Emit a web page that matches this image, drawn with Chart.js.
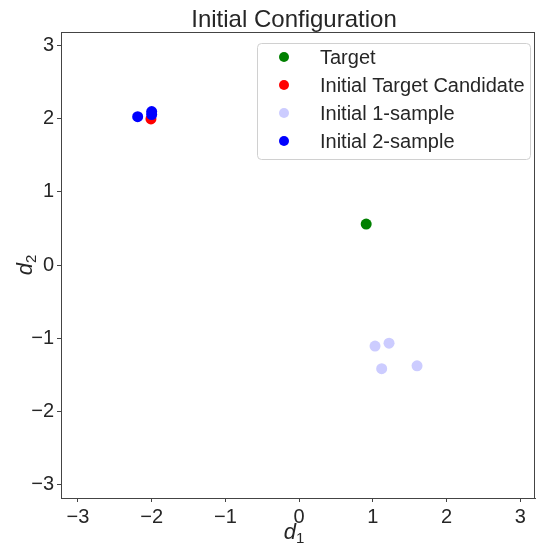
<!DOCTYPE html>
<html>
<head>
<meta charset="utf-8">
<script src="https://cdn.jsdelivr.net/npm/chart.js@4/dist/chart.umd.min.js"></script>
<style>
  html, body { margin: 0; padding: 0; background: #fff; }
  #wrap { width: 536px; height: 545px; }
</style>
</head>
<body>
<div id="wrap"><canvas id="chart" width="536" height="545"></canvas></div>
<script>
// values
const seriesNames = ['Target', 'Initial Target Candidate', 'Initial 1-sample', 'Initial 2-sample'];
const seriesColors = ['#008000', '#ff0000', '#ccccff', '#0000ff'];
const targetX = [0.91];
const targetY = [0.56];
const candidateX = [-2.01];
const candidateY = [2.0];
const oneSampleX = [1.03, 1.22, 1.12, 1.60];
const oneSampleY = [-1.11, -1.07, -1.42, -1.38];
const twoSampleX = [-2.19, -2.0, -2.0];
const twoSampleY = [2.03, 2.1, 2.06];
const tickValues = [-3, -2, -1, 0, 1, 2, 3];

const FONT = "'Liberation Sans', Arial, sans-serif";

function toPoints(xs, ys) {
    return xs.map((x, i) => ({ x: x, y: ys[i] }));
}

const allPoints = [
    toPoints(targetX, targetY),
    toPoints(candidateX, candidateY),
    toPoints(oneSampleX, oneSampleY),
    toPoints(twoSampleX, twoSampleY)
];

const datasets = seriesNames.map((name, i) => ({
    label: name,
    data: allPoints[i],
    backgroundColor: seriesColors[i],
    borderColor: seriesColors[i],
    borderWidth: 0,
    pointRadius: 5.5,
    pointHoverRadius: 5.5,
    order: seriesNames.length - i
}));

// title, top/right spines and the boxed legend
const extras = {
    id: 'extras',
    afterDraw(chart) {
        const c = chart.ctx;
        const a = chart.chartArea;
        c.save();
        c.strokeStyle = '#444';
        c.lineWidth = 1;
        c.beginPath();
        c.moveTo(a.left, a.top + 0.5);
        c.lineTo(a.right, a.top + 0.5);
        c.moveTo(a.right - 0.5, a.top);
        c.lineTo(a.right - 0.5, a.bottom);
        c.stroke();

        c.fillStyle = '#262626';
        c.font = '24px ' + FONT;
        c.textAlign = 'center';
        c.textBaseline = 'alphabetic';
        c.fillText('Initial Configuration', (a.left + a.right) / 2 - 4, 27);

        // legend
        const bx = 257, by = 43, bw = 273, bh = 116, r = 4;
        c.fillStyle = 'rgba(255,255,255,0.8)';
        c.strokeStyle = '#d0d0d0';
        c.beginPath();
        c.roundRect(bx + 0.5, by + 0.5, bw, bh, r);
        c.fill();
        c.stroke();
        c.font = '20px ' + FONT;
        c.textAlign = 'left';
        c.textBaseline = 'middle';
        const rows = [57, 85, 113, 141];
        chart.data.datasets.forEach((ds, i) => {
            c.fillStyle = ds.backgroundColor;
            c.beginPath();
            c.arc(284, rows[i], 5, 0, Math.PI * 2);
            c.fill();
            c.fillStyle = '#262626';
            c.fillText(ds.label, 320, rows[i] + 1);
        });

        // axis labels: italic d with subscript
        function axisLabel(x, y, sub, rotate) {
            c.save();
            c.translate(x, y);
            if (rotate) c.rotate(-Math.PI / 2);
            c.fillStyle = '#262626';
            c.textBaseline = 'alphabetic';
            c.font = 'italic 22px ' + FONT;
            const w1 = c.measureText('d').width;
            c.font = '15px ' + FONT;
            const w2 = c.measureText(sub).width;
            const start = -(w1 + w2) / 2;
            c.textAlign = 'left';
            c.font = 'italic 22px ' + FONT;
            c.fillText('d', start, 0);
            c.font = '15px ' + FONT;
            c.fillText(sub, start + w1, 4);
            c.restore();
        }
        axisLabel((a.left + a.right) / 2 - 4, 539, '1', false);
        axisLabel(32, (a.top + a.bottom) / 2, '2', true);
        c.restore();
    }
};

const tickFont = { family: FONT, size: 20 };
const tickCallback = v => (v < 0 ? '\u2212' + Math.abs(v) : String(v));

new Chart(document.getElementById('chart').getContext('2d'), {
    type: 'scatter',
    data: { datasets: datasets },
    options: {
        responsive: false,
        animation: false,
        layout: { autoPadding: false, padding: { top: 32, right: 1, left: 0, bottom: 0 } },
        plugins: {
            legend: { display: false },
            title: { display: false },
            tooltip: { enabled: false }
        },
        scales: {
            x: {
                type: 'linear',
                min: -3.23,
                max: 3.2,
                afterBuildTicks: s => { s.ticks = tickValues.map(v => ({ value: v })); },
                afterFit: s => { s.height = 47; },
                ticks: { font: tickFont, color: '#262626', padding: 3, callback: tickCallback, maxRotation: 0 },
                grid: { display: true, drawOnChartArea: false, tickLength: 4, color: '#444' },
                border: { color: '#444', width: 1 }
            },
            y: {
                type: 'linear',
                min: -3.19,
                max: 3.19,
                afterBuildTicks: s => { s.ticks = tickValues.map(v => ({ value: v })); },
                afterFit: s => { s.width = 61; },
                ticks: { font: tickFont, color: '#262626', padding: 3, callback: tickCallback },
                grid: { display: true, drawOnChartArea: false, tickLength: 4, color: '#444' },
                border: { color: '#444', width: 1 }
            }
        }
    },
    plugins: [extras]
});
</script>
</body>
</html>
